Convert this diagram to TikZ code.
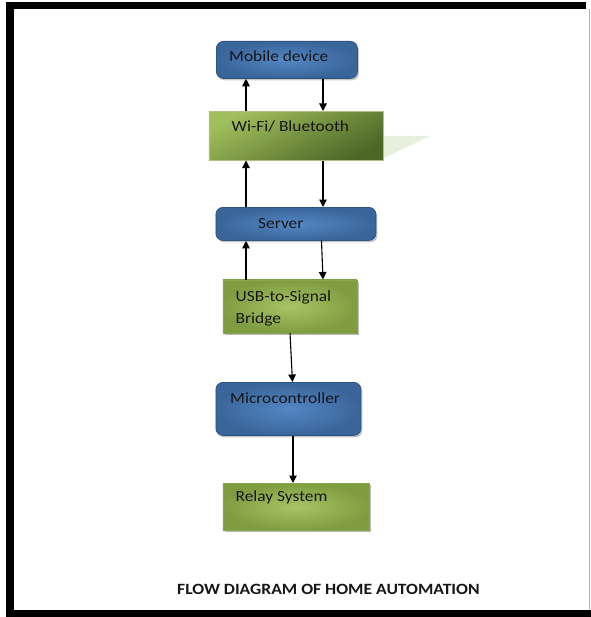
\documentclass[tikz,border=0pt]{standalone}
\usepackage{fontspec}
\setmainfont{Carlito}[FakeStretch=1.12]
\usetikzlibrary{arrows.meta,shadows,calc}
\definecolor{bluein}{HTML}{5487C4}
\definecolor{blueout}{HTML}{3A659A}
\definecolor{blueline}{HTML}{2E5583}
\definecolor{greenin}{HTML}{A6C465}
\definecolor{greenout}{HTML}{7F9C40}
\definecolor{greenline}{HTML}{8AA64A}
\definecolor{wifilight}{HTML}{A0BE5C}
\definecolor{wifidark}{HTML}{4D6727}
\definecolor{triang}{HTML}{E7F0DC}
\definecolor{txt}{HTML}{161616}
\begin{document}
\begin{tikzpicture}[x=1bp,y=-1bp,
  bluebox/.style={draw=blueline, line width=0.8bp, rounded corners=7bp, inner color=bluein, outer color=blueout,
    drop shadow={shadow xshift=1.5bp, shadow yshift=-2bp, opacity=0.45}, anchor=north west, inner sep=0},
  greenbox/.style={draw=greenline, line width=0.6bp, inner color=greenin, outer color=greenout,
    drop shadow={shadow xshift=2bp, shadow yshift=-2bp, opacity=0.55}, anchor=north west, inner sep=0},
  lbl/.style={anchor=base west, inner sep=0, font=\fontsize{15.5bp}{21.6bp}\selectfont, text=txt, align=left},
  arr/.style={line width=1.1bp, draw=black, -{Triangle[length=7.5bp,width=7.5bp]}}]
\useasboundingbox (0,0) rectangle (591,617);
% frame
\fill[black] (6,2) rectangle (586,9);
\fill[black] (6,2) rectangle (14,617);
\fill[black] (6,610) rectangle (591,617);
\fill[gray!60] (588.5,9) rectangle (589.8,610);
% triangle behind wifi
\fill[triang] (380,136) -- (430,136) -- (380,160) -- cycle;
% boxes
\node[bluebox, minimum width=141bp, minimum height=37bp] (mob) at (216,41) {};
\node[draw=greenline!70!white, line width=0.5bp, top color=wifilight, bottom color=wifidark, shading angle=28,
  anchor=north west, inner sep=0, minimum width=174bp, minimum height=49bp] (wifi) at (208.5,111) {};
\node[bluebox, minimum width=160bp, minimum height=33bp] (srv) at (215.5,207) {};
\node[greenbox, minimum width=134bp, minimum height=53bp] (usb) at (222.5,279.5) {};
\node[bluebox, minimum width=145bp, minimum height=53bp] (mcu) at (215.5,382) {};
\node[greenbox, minimum width=146bp, minimum height=47bp] (rly) at (222.5,483) {};
% texts
\node[lbl] (tmob) at (229,62) {Mobile device};
\node[lbl] (twifi) at (231.5,131.5) {Wi-Fi/ Bluetooth};
\node[lbl] (tsrv) at (258,228) {Server};
\node[lbl] (tusb) at (235.5,323.3) {USB-to-Signal\\Bridge};
\node[lbl] (tmcu) at (230,403.3) {Microcontroller};
\node[lbl] (trly) at (235.5,501.5) {Relay System};
\node[anchor=base west, inner sep=0, font=\fontsize{15.7bp}{18bp}\selectfont\bfseries, text=txt] (cap) at (177,594) {FLOW DIAGRAM OF HOME AUTOMATION};
% arrow x positions
\coordinate (xl) at (246,0);
\coordinate (xr) at (323,0);
\coordinate (xs) at (321.5,0);
\coordinate (xu) at (290,0);
\coordinate (xm) at (292.5,0);
\coordinate (xz) at (293,0);
\draw[arr] (wifi.north -| xl) -- (mob.south -| xl);
\draw[arr] (mob.south -| xr) -- (wifi.north -| xr);
\draw[arr] (srv.north -| xl) -- (wifi.south -| xl);
\draw[arr] (wifi.south -| xr) -- (srv.north -| xr);
\draw[arr] (usb.north -| xl) -- (srv.south -| xl);
\draw[arr] (srv.south -| xs) -- (usb.north -| xr);
\draw[arr] (usb.south -| xu) -- (mcu.north -| xm);
\draw[arr] (mcu.south -| xz) -- (rly.north -| xz);
\end{tikzpicture}
\end{document}
